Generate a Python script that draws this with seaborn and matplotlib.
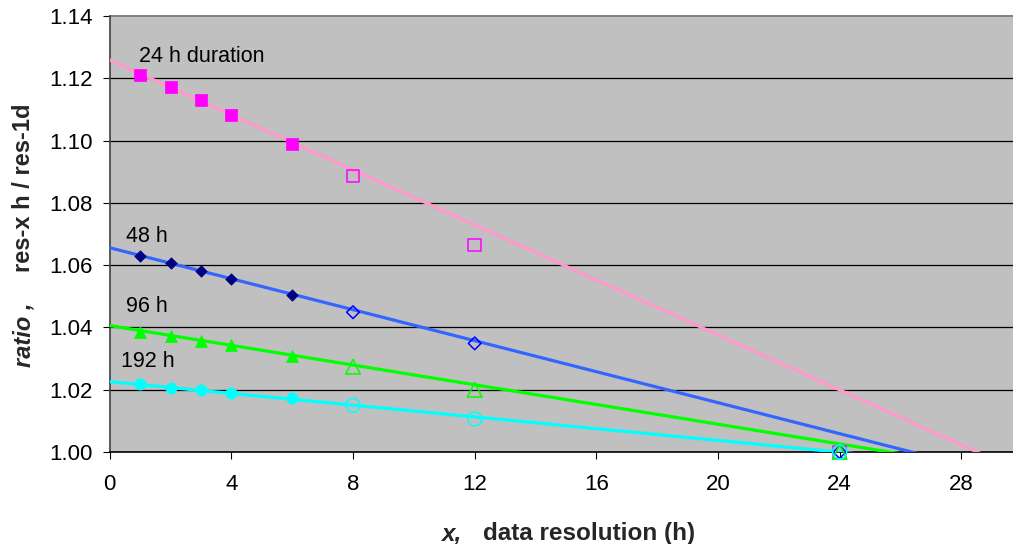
import numpy as np
import pandas as pd
import matplotlib
matplotlib.use("Agg")
import matplotlib.pyplot as plt
import seaborn as sns

# Data resolution (h) at which each ratio was computed
resolution_filled = [1, 2, 3, 4, 6]
resolution_open = [8, 12, 24]

# Ratio res-x h / res-1d for each event duration
ratio_24h_filled = [1.1211, 1.1171, 1.1130, 1.1082, 1.0989]
ratio_24h_open = [1.0887, 1.0665, 1.0000]
ratio_48h_filled = [1.0630, 1.0606, 1.0580, 1.0556, 1.0505]
ratio_48h_open = [1.0449, 1.0349, 1.0000]
ratio_96h_filled = [1.0387, 1.0373, 1.0358, 1.0343, 1.0309]
ratio_96h_open = [1.0274, 1.0200, 1.0000]
ratio_192h_filled = [1.0218, 1.0207, 1.0198, 1.0189, 1.0172]
ratio_192h_open = [1.0150, 1.0106, 1.0000]

# Linear trend lines (intercept, slope)
trend_24h = (1.1259, -0.004414)
trend_48h = (1.0656, -0.002487)
trend_96h = (1.0406, -0.001583)
trend_192h = (1.0226, -0.000943)

duration_labels = ["24 h duration", "48 h", "96 h", "192 h"]
label_pos = [(0.96, 1.1252), (0.54, 1.0675), (0.54, 1.0450), (0.37, 1.0273)]

x_ticks = [0, 4, 8, 12, 16, 20, 24, 28]
y_ticks = [1.00, 1.02, 1.04, 1.06, 1.08, 1.10, 1.12, 1.14]

sns.set_theme(style="white")
plt.rcParams["font.family"] = ["Liberation Sans", "DejaVu Sans"]

fig = plt.figure(figsize=(10.13, 5.44), dpi=100)
ax = fig.add_axes([0.1083, 0.169, 0.8917, 0.8016])
ax.set_facecolor("#C0C0C0")

series = [
    dict(filled=ratio_24h_filled, open_=ratio_24h_open, trend=trend_24h,
         line="#FF99CC", fill="#FF00FF", edge="#FF00FF", marker="s", s=70, s_open=80),
    dict(filled=ratio_48h_filled, open_=ratio_48h_open, trend=trend_48h,
         line="#3366FF", fill="#000080", edge="#0000FF", marker="D", s=34, s_open=42),
    dict(filled=ratio_96h_filled, open_=ratio_96h_open, trend=trend_96h,
         line="#00FF00", fill="#00FF00", edge="#00FF00", marker="^", s=74, s_open=110),
    dict(filled=ratio_192h_filled, open_=ratio_192h_open, trend=trend_192h,
         line="#00FFFF", fill="#00FFFF", edge="#00FFFF", marker="o", s=66, s_open=100),
]

x_line = np.array([0.0, 30.0])
for sr in series:
    b0, b1 = sr["trend"]
    trend_df = pd.DataFrame({"x": x_line, "y": b0 + b1 * x_line})
    sns.lineplot(data=trend_df, x="x", y="y", ax=ax, color=sr["line"],
                 linewidth=2.3, zorder=3)

for sr in series:
    fdf = pd.DataFrame({"x": resolution_filled, "y": sr["filled"]})
    odf = pd.DataFrame({"x": resolution_open, "y": sr["open_"]})
    sns.scatterplot(data=fdf, x="x", y="y", ax=ax, marker=sr["marker"],
                    s=sr["s"], color=sr["fill"], edgecolor=sr["fill"],
                    linewidth=0.5, zorder=4, clip_on=False)
    sns.scatterplot(data=odf, x="x", y="y", ax=ax, marker=sr["marker"],
                    s=sr["s_open"], facecolors="none", edgecolor=sr["edge"],
                    linewidth=1.1, zorder=4, clip_on=False)

for text, (tx, ty) in zip(duration_labels, label_pos):
    ax.text(tx, ty, text, fontsize=15.5, color="black", ha="left", va="baseline")

ax.set_xlim(0, 29.7)
ax.set_ylim(1.00, 1.14)
ax.set_xticks(x_ticks)
ax.set_yticks(y_ticks)
ax.set_yticklabels([f"{v:.2f}" for v in y_ticks])
ax.grid(False)
for v in y_ticks[1:-1]:
    ax.axhline(v, color="black", linewidth=0.9, zorder=1)
ax.axhline(y_ticks[-1], color="#808080", linewidth=1.4, zorder=1, clip_on=False)

ax.tick_params(axis="both", direction="out", length=5, width=0.8,
               colors="black", labelsize=16, left=True, bottom=True)
ax.tick_params(axis="y", pad=7)
ax.tick_params(axis="x", pad=11)
for side in ["top", "right"]:
    ax.spines[side].set_visible(False)
ax.spines["left"].set_color("#404040")
ax.spines["left"].set_linewidth(1.2)
ax.spines["bottom"].set_color("black")
ax.spines["bottom"].set_linewidth(1.2)

ax.set_xlabel("")
ax.set_ylabel("")

# Axis titles with mixed styling
fig.text(24 / 1013, 1 - 335 / 544, "ratio ,", rotation=90, fontsize=17,
         fontweight="bold", fontstyle="italic", ha="center", va="center")
fig.text(24 / 1013, 1 - 188 / 544, "res-x h / res-1d", rotation=90, fontsize=17,
         fontweight="bold", ha="center", va="center")
fig.text(441 / 1013, 1 - 540 / 544, "x,", fontsize=17.5, fontweight="bold",
         fontstyle="italic", ha="left", va="baseline")
fig.text(483 / 1013, 1 - 540 / 544, "data resolution (h)", fontsize=17.5,
         fontweight="bold", ha="left", va="baseline")

fig.savefig("out.png", dpi=100)
